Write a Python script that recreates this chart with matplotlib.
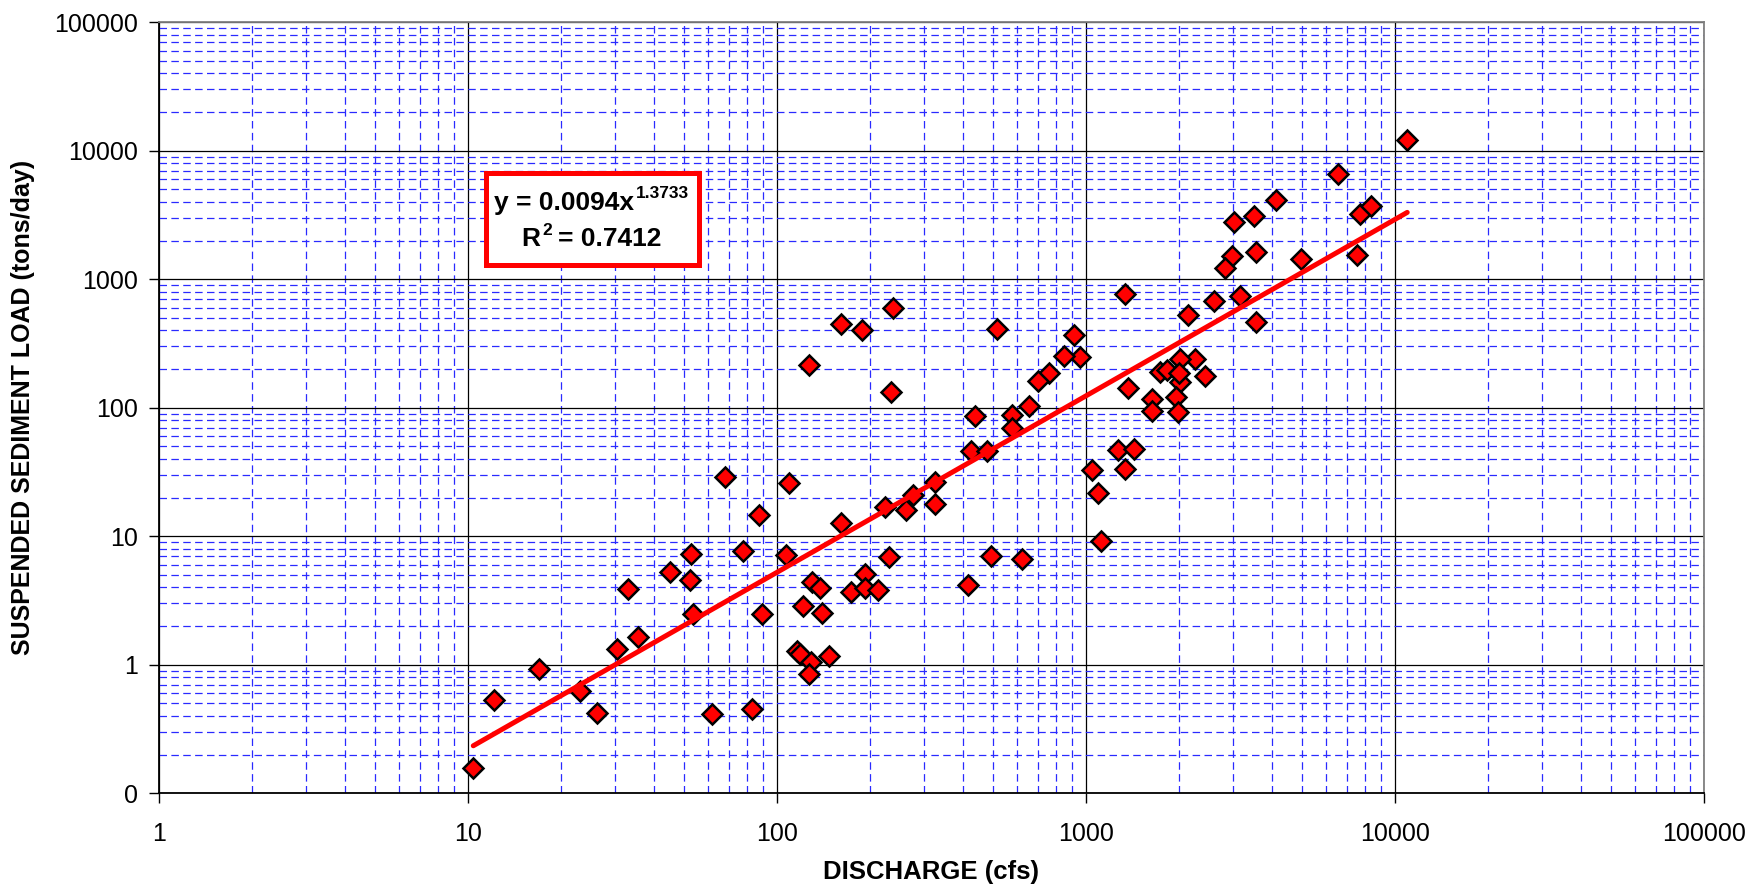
import numpy as np
import matplotlib
matplotlib.use("Agg")
import matplotlib.pyplot as plt
from matplotlib.patches import Rectangle
from matplotlib.ticker import LogLocator, NullFormatter

plt.rcParams['font.family'] = ['Liberation Sans', 'DejaVu Sans']

# ---------------- data ----------------
discharge_cfs = [
    10.4, 12.1, 17.0, 23.0, 26.2, 30.3, 33.0, 35.4, 45.1, 52.6,
    52.2, 53.3, 61.8, 67.8, 77.7, 87.3, 89.7, 83.2, 107, 109.5,
    161.7, 223, 261, 324, 230.9, 494, 622, 414, 130.2, 137.9,
    192.6, 174.2, 192.6, 212.6, 121.2, 139.7, 115.9, 118.6, 128.7, 127,
    147.8, 127, 161.3, 187.7, 237, 234.3, 517, 912, 954, 847,
    757, 698, 652.6, 575, 575, 437.5, 423.6, 478.6, 324.5, 274.8,
    1044, 1092, 10953, 6531, 4131, 3006, 3491, 7733, 8356, 2978,
    2826, 3550, 4967, 7537, 1342, 2603, 3143, 3541, 2138, 2259,
    2011, 2427, 1730, 1828, 2011, 1960, 1370, 1639, 1634, 1984,
    1271, 1432, 1342, 1122, 2000,
]
sediment_tons_day = [
    0.157, 0.53, 0.93, 0.63, 0.42, 1.33, 3.9, 1.65, 5.27, 7.3,
    4.6, 2.47, 0.414, 29.1, 7.7, 14.6, 2.47, 0.451, 7.1, 25.9,
    12.8, 16.9, 16.1, 17.9, 6.94, 7.06, 6.62, 4.18, 4.43, 3.94,
    5.09, 3.71, 3.94, 3.82, 2.87, 2.54, 1.29, 1.21, 1.06, 0.843,
    1.18, 216, 449, 405, 598, 132, 410, 371, 248, 252,
    185, 162, 104, 88.3, 69.6, 86.8, 46.3, 46.1, 26.6, 21.1,
    33.0, 21.8, 12130, 6561, 4120, 2782, 3092, 3224, 3698, 1518,
    1218, 1622, 1447, 1538, 772, 678, 745, 468, 527, 238,
    238, 178, 191, 196, 160, 121, 142, 118, 94.9, 92.7,
    47.0, 47.6, 33.2, 9.25, 185,
]

trend_coef = 0.0094
trend_exp = 1.3733
r_squared = 0.7412

x_tick_values = [1, 10, 100, 1000, 10000, 100000]
x_tick_labels = ['1', '10', '100', '1000', '10000', '100000']
y_tick_values = [0.1, 1, 10, 100, 1000, 10000, 100000]
y_tick_labels = ['0', '1', '10', '100', '1000', '10000', '100000']

x_label = 'DISCHARGE (cfs)'
y_label = 'SUSPENDED SEDIMENT LOAD (tons/day)'

# ---------------- figure ----------------
W, H = 1751, 885
fig = plt.figure(figsize=(W / 100, H / 100), dpi=100)


def fx(px):
    return px / W


def fy(py):
    return 1 - py / H


left_px, right_px, top_px, bottom_px = 159, 1704, 22.3, 793.3
ax = fig.add_axes([fx(left_px), fy(bottom_px), fx(right_px - left_px),
                   (bottom_px - top_px) / H])

ax.set_xscale('log')
ax.set_yscale('log')
ax.set_xlim(x_tick_values[0], x_tick_values[-1])
ax.set_ylim(y_tick_values[0], y_tick_values[-1])

ax.set_xticks(x_tick_values)
ax.set_xticklabels(x_tick_labels)
ax.set_yticks(y_tick_values)
ax.set_yticklabels(y_tick_labels)
ax.xaxis.set_minor_locator(LogLocator(base=10, subs=np.arange(2, 10), numticks=100))
ax.yaxis.set_minor_locator(LogLocator(base=10, subs=np.arange(2, 10), numticks=100))
ax.xaxis.set_minor_formatter(NullFormatter())
ax.yaxis.set_minor_formatter(NullFormatter())

ax.tick_params(which='minor', length=0)
ax.tick_params(which='major', length=7, width=1.0, direction='out',
               labelsize=18, colors='black')
ax.tick_params(axis='x', which='major', pad=14)
ax.tick_params(axis='y', which='major', pad=8)

ax.grid(which='major', color='black', lw=0.9, ls='-')
ax.grid(which='minor', color='#2a2aff', lw=0.9, ls=(0, (6, 3.5)))
ax.set_axisbelow(True)

for side in ['left', 'bottom']:
    ax.spines[side].set_color('black')
    ax.spines[side].set_linewidth(1.3)
for side in ['top', 'right']:
    ax.spines[side].set_color('#808080')
    ax.spines[side].set_linewidth(1.3)

# scatter
ax.plot(discharge_cfs, sediment_tons_day, linestyle='none', marker='D',
        markersize=10, markerfacecolor='#ff0000', markeredgecolor='black',
        markeredgewidth=1.8, zorder=3, clip_on=False)

# power trendline
xs = np.logspace(np.log10(min(discharge_cfs)), np.log10(max(discharge_cfs)), 200)
ax.plot(xs, trend_coef * xs ** trend_exp, color='#ff0000', lw=3.6,
        solid_capstyle='round', zorder=4)

# axis labels
fig.text(fx(931), fy(879), x_label, ha='center', va='baseline',
         fontsize=18.5, fontweight='bold')
fig.text(fx(23), fy(407), y_label, ha='center', va='center', rotation=90,
         fontsize=18, fontweight='bold')

# equation box
box = Rectangle((fx(485.5), fy(264.5)), fx(698.5 - 485.5), (264.5 - 172.5) / H,
                transform=fig.transFigure, facecolor='white', edgecolor='#ff0000',
                lw=3.6, zorder=10)
fig.add_artist(box)
eq_kw = dict(fontsize=19, fontweight='bold', zorder=11)
fig.text(fx(634), fy(210), f'y = {trend_coef}x', ha='right', va='baseline', **eq_kw)
fig.text(fx(636), fy(185.5), f'{trend_exp}', ha='left', va='top',
         fontsize=12.5, fontweight='bold', zorder=11)
fig.text(fx(521), fy(246), 'R', ha='left', va='baseline', **eq_kw)
fig.text(fx(542.5), fy(223), '2', ha='left', va='top',
         fontsize=12.5, fontweight='bold', zorder=11)
fig.text(fx(558), fy(246), f'= {r_squared}', ha='left', va='baseline', **eq_kw)

fig.savefig('out.png', dpi=100)
